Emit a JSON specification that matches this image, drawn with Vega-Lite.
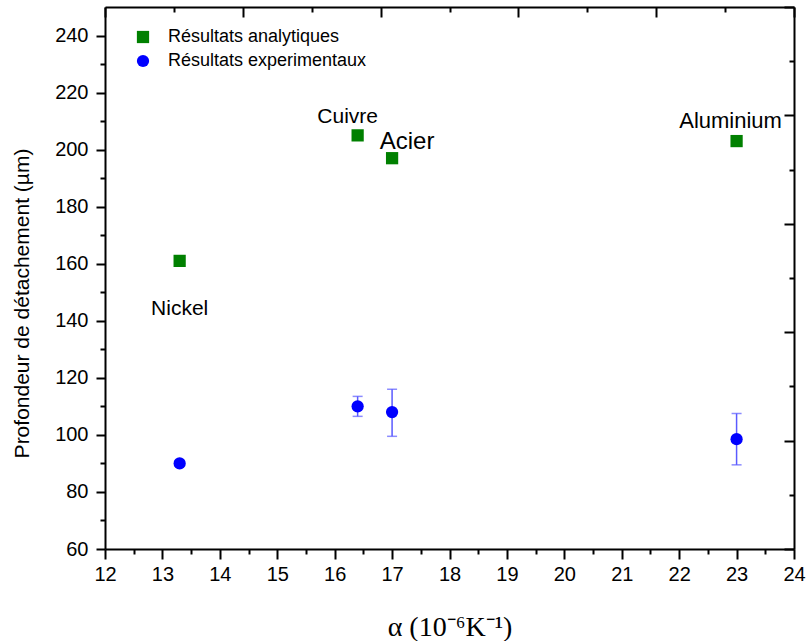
{
  "$schema": "https://vega.github.io/schema/vega-lite/v6.json",
  "width": 689,
  "height": 542,
  "autosize": {"type": "none"},
  "padding": {"left": 105, "top": 7, "right": 12, "bottom": 92},
  "background": "white",
  "config": {
    "view": {"stroke": null},
    "font": "Liberation Sans",
    "axis": {
      "grid": false,
      "domainColor": "black",
      "domainWidth": 2,
      "tickColor": "black",
      "tickWidth": 2,
      "labelFont": "Liberation Sans",
      "labelFontSize": 20,
      "labelColor": "black",
      "titleColor": "black"
    }
  },
  "datasets": {
    "pts": [
      {"metal": "Nickel", "alpha": 13.3, "serie": "Résultats analytiques", "value": 161},
      {"metal": "Cuivre", "alpha": 16.4, "serie": "Résultats analytiques", "value": 205},
      {"metal": "Acier", "alpha": 17, "serie": "Résultats analytiques", "value": 197},
      {"metal": "Aluminium", "alpha": 23, "serie": "Résultats analytiques", "value": 203},
      {"metal": "Nickel", "alpha": 13.3, "serie": "Résultats experimentaux", "value": 90, "low": 89, "high": 91},
      {"metal": "Cuivre", "alpha": 16.4, "serie": "Résultats experimentaux", "value": 110, "low": 106.5, "high": 113.5},
      {"metal": "Acier", "alpha": 17, "serie": "Résultats experimentaux", "value": 108, "low": 99.5, "high": 116},
      {"metal": "Aluminium", "alpha": 23, "serie": "Résultats experimentaux", "value": 98.5, "low": 89.5, "high": 107.5}
    ]
  },
  "resolve": {"axis": {"x": "independent", "y": "independent"}},
  "layer": [
    {
      "data": {"name": "pts"},
      "encoding": {
        "x": {
          "field": "alpha", "type": "quantitative",
          "scale": {"domain": [12, 24], "nice": false, "zero": false},
          "axis": {
            "orient": "bottom",
            "values": [12, 12.5, 13, 13.5, 14, 14.5, 15, 15.5, 16, 16.5, 17, 17.5, 18, 18.5, 19, 19.5, 20, 20.5, 21, 21.5, 22, 22.5, 23, 23.5, 24],
            "labelExpr": "datum.value % 1 === 0 ? format(datum.value, 'd') : ''",
            "tickSize": {"condition": {"test": "datum.value % 1 === 0", "value": 10}, "value": 5},
            "labelPadding": 5,
            "labelFlush": false,
            "labelOverlap": false,
            "title": "α (10⁻⁶K⁻¹)",
            "titleFont": "Liberation Serif",
            "titleFontSize": 28,
            "titleFontWeight": "normal",
            "titleBaseline": "alphabetic",
            "titleY": 86
          }
        },
        "y": {
          "field": "value", "type": "quantitative",
          "scale": {"domain": [60, 250], "nice": false, "zero": false},
          "axis": {
            "orient": "left",
            "values": [60, 70, 80, 90, 100, 110, 120, 130, 140, 150, 160, 170, 180, 190, 200, 210, 220, 230, 240],
            "labelExpr": "datum.value % 20 === 0 ? format(datum.value, 'd') : ''",
            "tickSize": {"condition": {"test": "datum.value % 20 === 0", "value": 9}, "value": 5},
            "labelPadding": 8,
            "labelFlush": false,
            "labelOverlap": false,
            "title": "Profondeur de détachement (µm)",
            "titleFont": "Liberation Sans",
            "titleFontSize": 21,
            "titleFontWeight": "normal",
            "titleAngle": -90,
            "titleAlign": "center",
            "titleBaseline": "alphabetic",
            "titleX": -77,
            "titleY": 296
          }
        }
      },
      "layer": [
        {
          "transform": [{"filter": "isValid(datum.low)"}],
          "mark": {"type": "rule", "color": "#5a5aff", "strokeWidth": 1.5},
          "encoding": {"y": {"field": "low", "type": "quantitative"}, "y2": {"field": "high"}}
        },
        {
          "transform": [{"filter": "isValid(datum.low)"}],
          "mark": {"type": "tick", "orient": "horizontal", "color": "#5a5aff", "size": 10, "thickness": 1.5},
          "encoding": {"y": {"field": "low", "type": "quantitative"}}
        },
        {
          "transform": [{"filter": "isValid(datum.high)"}],
          "mark": {"type": "tick", "orient": "horizontal", "color": "#5a5aff", "size": 10, "thickness": 1.5},
          "encoding": {"y": {"field": "high", "type": "quantitative"}}
        },
        {
          "mark": {"type": "point", "filled": true, "opacity": 1, "size": 150},
          "encoding": {
            "color": {
              "field": "serie", "type": "nominal",
              "scale": {"domain": ["Résultats analytiques", "Résultats experimentaux"], "range": ["#008000", "#0000ff"]},
              "legend": {
                "orient": "none",
                "legendX": 29,
                "legendY": 21,
                "title": null,
                "padding": 0,
                "labelFont": "Liberation Sans",
                "labelFontSize": 18,
                "labelColor": "black",
                "labelLimit": 0,
                "labelOffset": 16,
                "symbolSize": 150,
                "symbolStrokeWidth": 0,
                "rowPadding": 6
              }
            },
            "shape": {
              "field": "serie", "type": "nominal",
              "scale": {"domain": ["Résultats analytiques", "Résultats experimentaux"], "range": ["square", "circle"]},
              "legend": null
            }
          }
        },
        {
          "transform": [{"filter": "datum.serie === 'Résultats analytiques' && datum.metal === 'Nickel'"}],
          "mark": {"type": "text", "font": "Liberation Sans", "fontSize": 21, "color": "black", "align": "center", "baseline": "middle", "dx": 0, "dy": 48},
          "encoding": {"text": {"field": "metal"}}
        },
        {
          "transform": [{"filter": "datum.serie === 'Résultats analytiques' && datum.metal === 'Cuivre'"}],
          "mark": {"type": "text", "font": "Liberation Sans", "fontSize": 21, "color": "black", "align": "center", "baseline": "middle", "dx": -10, "dy": -18},
          "encoding": {"text": {"field": "metal"}}
        },
        {
          "transform": [{"filter": "datum.serie === 'Résultats analytiques' && datum.metal === 'Acier'"}],
          "mark": {"type": "text", "font": "Liberation Sans", "fontSize": 24, "color": "black", "align": "center", "baseline": "middle", "dx": 15, "dy": -16},
          "encoding": {"text": {"field": "metal"}}
        },
        {
          "transform": [{"filter": "datum.serie === 'Résultats analytiques' && datum.metal === 'Aluminium'"}],
          "mark": {"type": "text", "font": "Liberation Sans", "fontSize": 22, "color": "black", "align": "center", "baseline": "middle", "dx": -6, "dy": -20},
          "encoding": {"text": {"field": "metal"}}
        }
      ]
    },
    {
      "data": {"name": "pts"},
      "mark": {"type": "point", "opacity": 0},
      "encoding": {
        "x": {
          "field": "alpha", "type": "quantitative",
          "scale": {"domain": [12, 24], "nice": false, "zero": false},
          "axis": {
            "orient": "top",
            "values": [12, 13.2, 14.4, 15.6, 16.8, 18, 19.2, 20.4, 21.6, 22.8, 24],
            "labels": false,
            "title": null,
            "tickSize": {"condition": {"test": "indexof([12, 14.4, 16.8, 19.2, 21.6, 24], datum.value) >= 0", "value": -10}, "value": -5}
          }
        },
        "y": {
          "field": "value", "type": "quantitative",
          "scale": {"domain": [60, 250], "nice": false, "zero": false},
          "axis": {
            "orient": "right",
            "values": [60, 79, 98, 117, 136, 155, 174, 193, 212, 231, 250],
            "labels": false,
            "title": null,
            "tickSize": {"condition": {"test": "indexof([60, 98, 136, 174, 212, 250], datum.value) >= 0", "value": -10}, "value": -5}
          }
        }
      }
    }
  ]
}
